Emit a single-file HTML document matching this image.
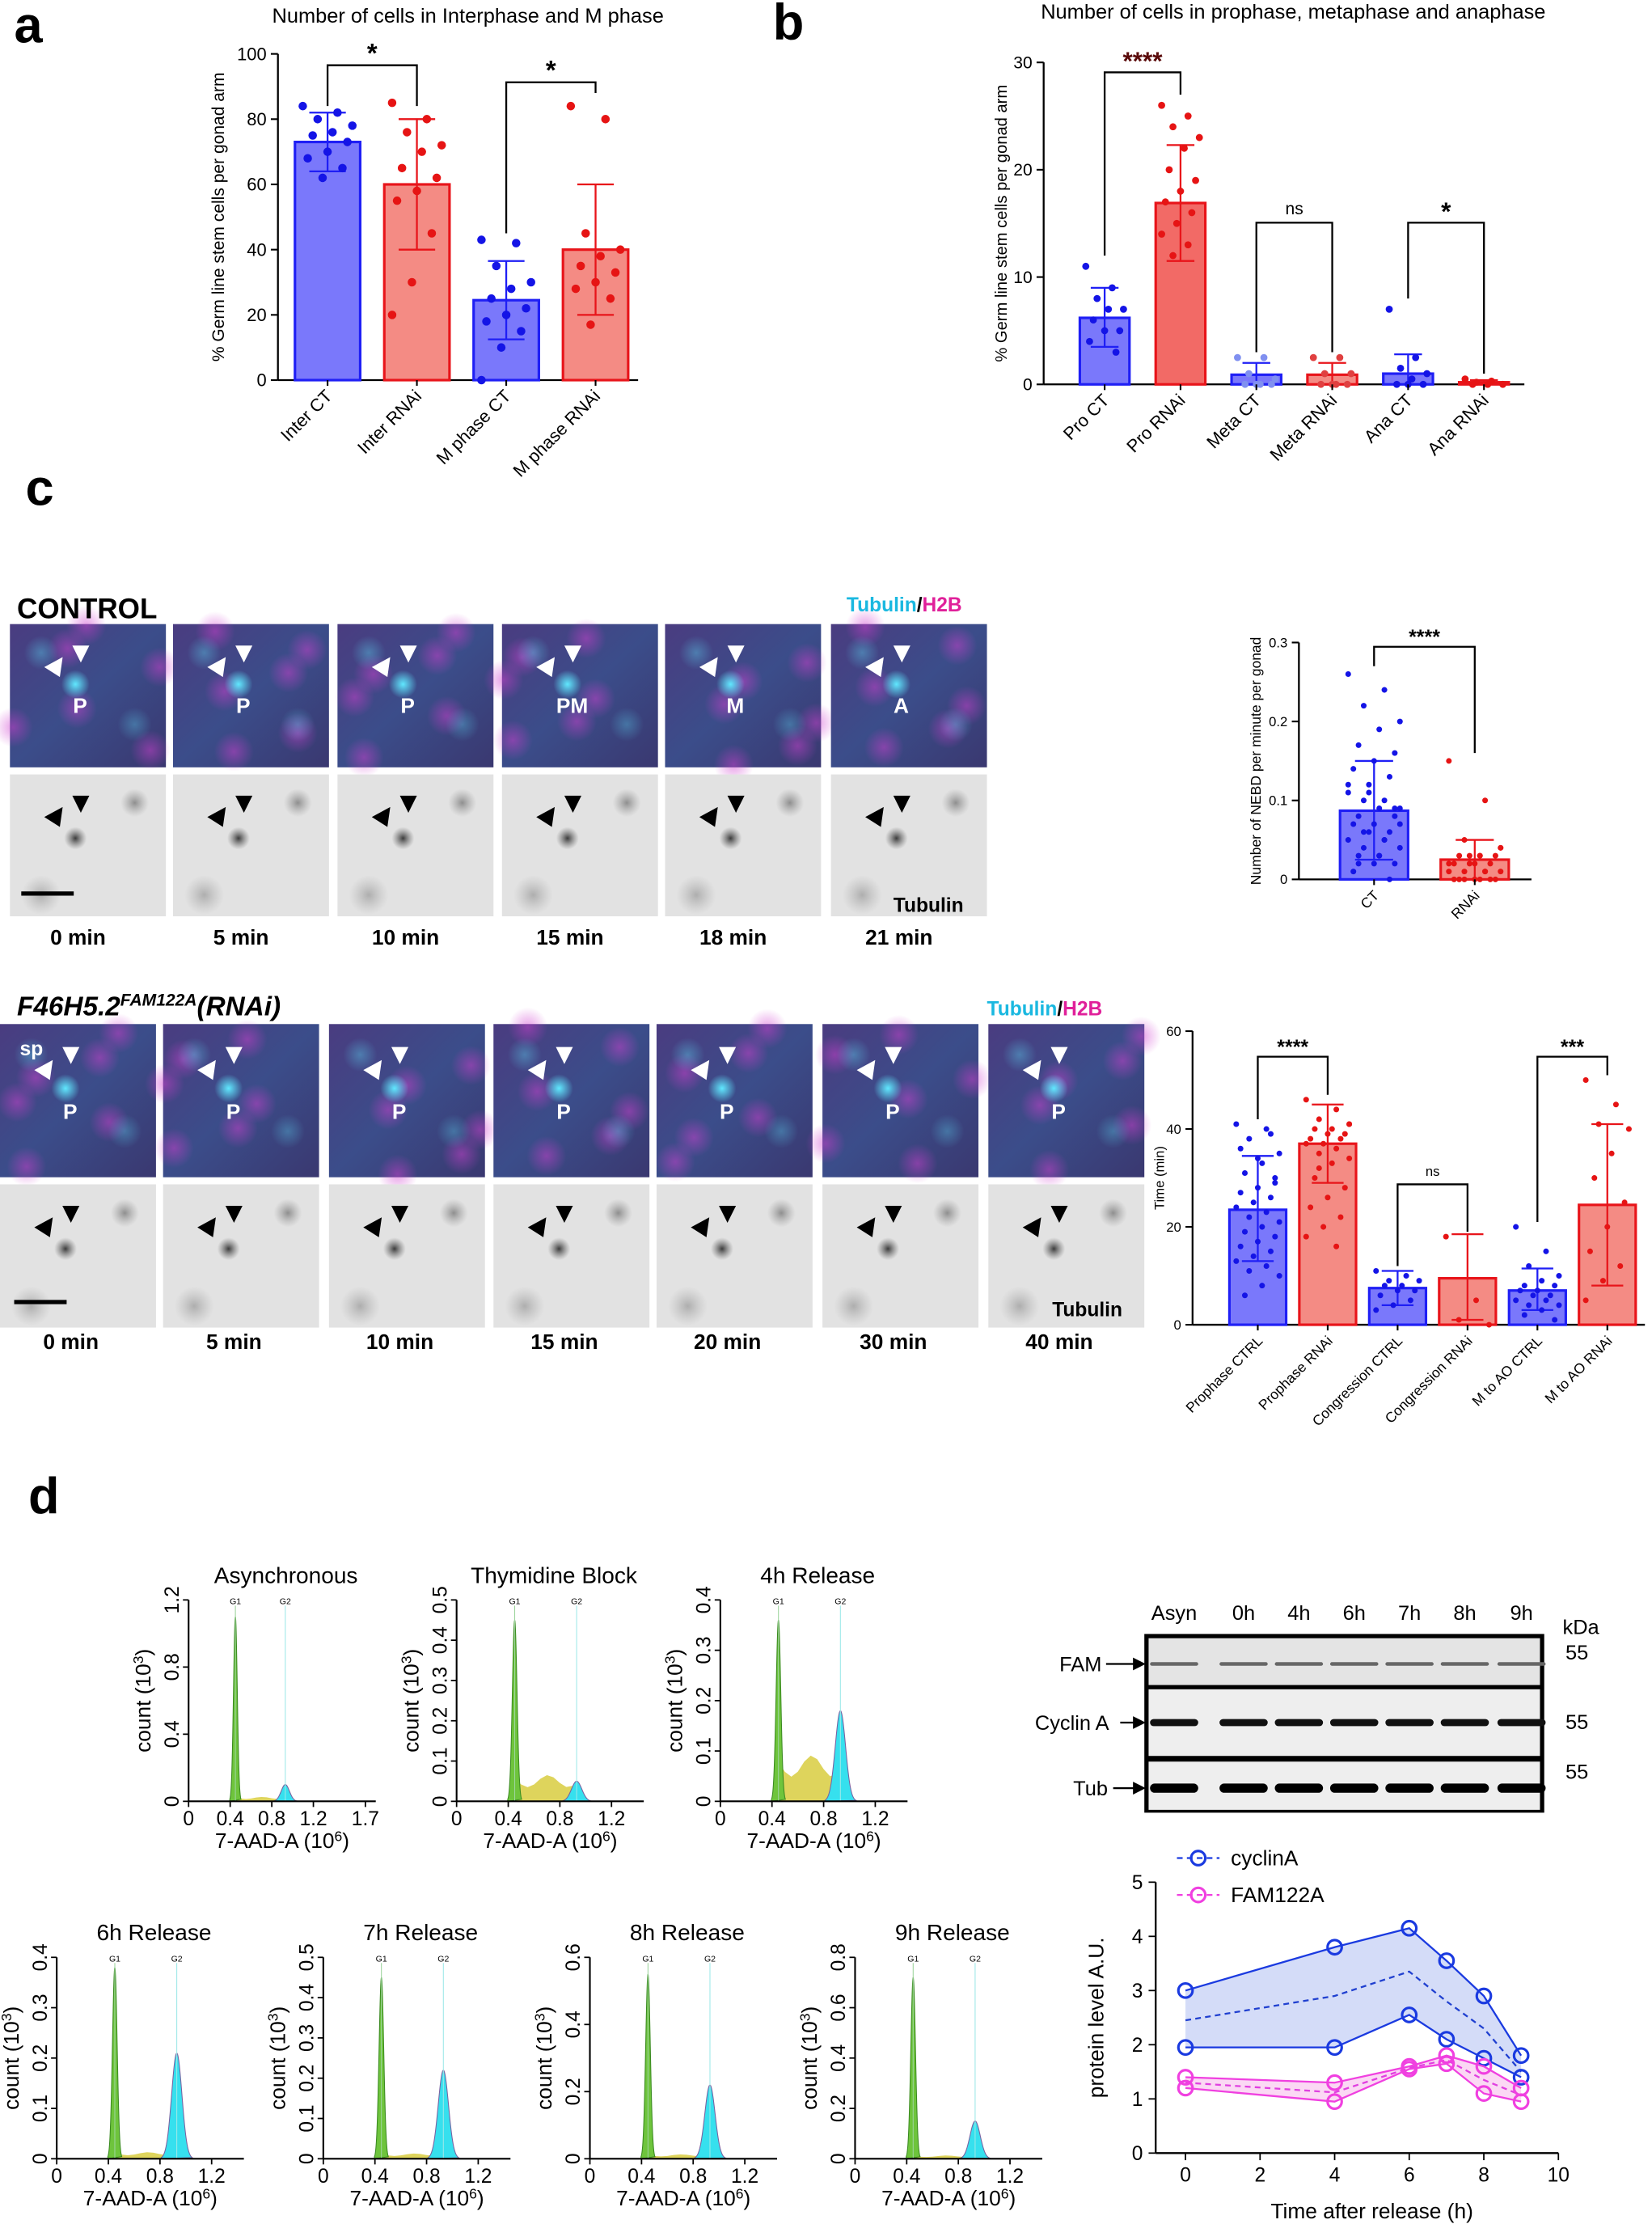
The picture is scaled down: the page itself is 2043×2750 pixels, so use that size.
<!DOCTYPE html>
<html><head><meta charset="utf-8">
<style>
html,body{margin:0;padding:0;background:#fff;}
svg{display:block;font-family:"Liberation Sans",sans-serif;}
</style></head>
<body>
<svg id="fig" width="2043" height="2750" viewBox="0 0 1165 1568" preserveAspectRatio="none" xmlns="http://www.w3.org/2000/svg">
<defs>
<radialGradient id="cyanblob"><stop offset="0" stop-color="#60e8ff"/><stop offset="1" stop-color="#60e8ff" stop-opacity="0"/></radialGradient>
<radialGradient id="magblob"><stop offset="0" stop-color="#d040d0"/><stop offset="1" stop-color="#d040d0" stop-opacity="0"/></radialGradient>
<radialGradient id="darkblob"><stop offset="0" stop-color="#111"/><stop offset="1" stop-color="#555" stop-opacity="0"/></radialGradient>
<linearGradient id="cbg" x1="0" y1="0" x2="1" y2="1"><stop offset="0" stop-color="#4a3c80"/><stop offset="0.5" stop-color="#3b4d8a"/><stop offset="1" stop-color="#3a3870"/></linearGradient>
</defs>
</svg>
<script>
// ---------- DATA ----------
// panel a
const aCats=["Inter CT","Inter RNAi","M phase CT","M phase RNAi"];
const aMeans=[73,60,24.5,40];
const aErrLo=[64,40,12.5,20];
const aErrHi=[82,80,36.5,60];
const aDots=[[84,82,80,78,76,75,73,70,68,65,62],[85,80,76,72,70,65,62,58,55,45,30,20],[43,42,35,30,28,25,22,20,18,15,10,0],[84,80,45,40,38,35,33,30,28,25,17]];
const aTicks=[0,20,40,60,80,100];
// panel b
const bCats=["Pro CT","Pro RNAi","Meta CT","Meta RNAi","Ana CT","Ana RNAi"];
const bMeans=[6.2,16.9,0.9,0.9,1.0,0.2];
const bErrLo=[3.5,11.5,0,0,0,0];
const bErrHi=[9,22.3,2,2,2.8,0.4];
const bDots=[[11,9,8,7,7,6,5,5,4,3],[26,25,24,23,22,20,19,18,17,16,15,14,13,12],[2.5,2.5,1,0.5,0,0,0,0],[2.5,2.5,1,1,0,0,0,0],[7,2.5,1.5,1,0.5,0,0,0],[0.5,0.3,0.2,0,0,0]];
const bTicks=[0,10,20,30];
// NEBD
const nCats=["CT","RNAi"];
const nMeans=[0.087,0.025];
const nErrLo=[0.025,0];
const nErrHi=[0.15,0.05];
const nDots=[[0.26,0.24,0.22,0.2,0.19,0.17,0.16,0.15,0.14,0.13,0.12,0.11,0.1,0.1,0.09,0.09,0.08,0.08,0.07,0.07,0.06,0.06,0.05,0.05,0.04,0.04,0.03,0.03,0.02,0.02,0.01,0,0.11,0.12,0.05,0.06,0.07,0.03,0.02,0.09],[0.15,0.1,0.05,0.04,0.03,0.03,0.03,0.02,0.02,0.02,0.02,0.01,0.01,0.01,0.01,0,0,0,0,0,0,0.03,0.02,0.01,0,0.04,0.03]];
const nTicks=[0,0.1,0.2,0.3];
// time chart
const tCats=["Prophase CTRL","Prophase RNAi","Congression CTRL","Congression RNAi","M to AO CTRL","M to AO RNAi"];
const tMeans=[23.5,37,7.5,9.5,7,24.5];
const tErrLo=[13,29,4,1,3,8];
const tErrHi=[34.5,45,11,18.5,11.5,41];
const tDots=[[41,40,38,35,33,31,30,28,27,26,25,24,23,22,21,20,19,18,17,16,15,14,13,12,11,10,8,6,29,34,36,39],[46,44,42,41,40,40,39,39,38,38,37,37,36,35,34,33,30,28,26,24,22,20,18,16,32,41],[11,10,9,9,8,8,7,7,6,5,4,3],[18,5,1,0],[20,15,12,10,9,8,8,7,7,6,6,5,5,4,4,3,2,1],[50,45,41,40,35,30,25,20,15,12,9,5]];
const tTicks=[0,20,40,60];
// line chart
const lX=[0,4,6,7,8,9];
const cycUp=[3.0,3.8,4.15,3.55,2.9,1.8];
const cycLo=[1.95,1.95,2.55,2.1,1.75,1.4];
const cycMean=[2.45,2.9,3.35,2.8,2.3,1.5];
const famUp=[1.4,1.3,1.6,1.8,1.6,1.2];
const famLo=[1.2,0.95,1.55,1.65,1.1,0.95];
const famMean=[1.3,1.12,1.57,1.72,1.35,1.07];
const lXTicks=[0,2,4,6,8,10];
const lYTicks=[0,1,2,3,4,5];
// histograms
const hTitles=["Asynchronous","Thymidine Block","4h Release","6h Release","7h Release","8h Release","9h Release"];
const hYMax=[1.2,0.5,0.4,0.4,0.5,0.6,0.8];
const hYStep=[0.4,0.1,0.1,0.1,0.1,0.2,0.2];
const hG1=[1.1,0.45,0.36,0.38,0.45,0.55,0.72];
const hG2=[0.1,0.05,0.18,0.21,0.22,0.22,0.15];
const hS=[0.02,0.05,0.07,0.01,0.01,0.01,0.01];
const hXTicks=[[0.4,0.8,1.2,1.7],[0.4,0.8,1.2],[0.4,0.8,1.2],[0.4,0.8,1.2],[0.4,0.8,1.2],[0.4,0.8,1.2],[0.4,0.8,1.2]];

// ---------- HELPERS ----------
const NS="http://www.w3.org/2000/svg";
const svg=document.getElementById('fig');
function mk(tag,attrs,parent){const e=document.createElementNS(NS,tag);for(const k in attrs)e.setAttribute(k,attrs[k]);(parent||svg).appendChild(e);return e;}
function txt(x,y,s,size,opts,parent){const o=Object.assign({x:x,y:y,'font-size':size},opts||{});const e=mk('text',o,parent);e.textContent=s;return e;}

// ---------- PANEL LABELS ----------
[["a",10,30],["b",545,28],["c",18,356],["d",20,1067]].forEach(p=>{
 const t=txt(p[1],p[2],p[0],36,{'font-weight':'bold'});
 
 
});

// ---------- BAR CHART ----------
function barChart(o){
 const g=mk('g',{});
 
 
 const ys=v=>o.yBot-(v-o.yMin)/(o.yMax-o.yMin)*(o.yBot-o.yTop);
 const ax=mk('line',{x1:o.ax,y1:o.yTop,x2:o.ax,y2:o.yBot,stroke:'#000','stroke-width':1.3},g);
 
 
 const xa=mk('line',{x1:o.ax,y1:o.yBot,x2:o.xEnd,y2:o.yBot,stroke:'#000','stroke-width':1.3},g);
 
 
 o.ticks.forEach(t=>{
  mk('line',{x1:o.ax-5,y1:ys(t),x2:o.ax,y2:ys(t),stroke:'#000','stroke-width':1.2},g);
  const l=txt(o.ax-8,ys(t)+o.fs*0.35,String(t),o.fs,{'text-anchor':'end'},g);
  
  
 });
 const yt=txt(0,0,o.ytitle,o.yfs,{'text-anchor':'middle',transform:`translate(${o.ytx},${(o.yTop+o.yBot)/2}) rotate(-90)`},g);
 
 
 o.cats.forEach((c,i)=>{
  const cx=o.cx0+i*o.step;
  const fill=o.fills[i],stroke=o.strokes[i];
  const b=mk('rect',{x:cx-o.bw/2,y:ys(o.means[i]),width:o.bw,height:o.yBot-ys(o.means[i]),fill:fill,stroke:stroke,'stroke-width':1.8},g);
  
  
  const ec=stroke;
  mk('line',{x1:cx,y1:ys(o.lo[i]),x2:cx,y2:ys(o.hi[i]),stroke:ec,'stroke-width':1.3},g);
  mk('line',{x1:cx-o.bw*0.28,y1:ys(o.hi[i]),x2:cx+o.bw*0.28,y2:ys(o.hi[i]),stroke:ec,'stroke-width':1.3},g);
  mk('line',{x1:cx-o.bw*0.28,y1:ys(o.lo[i]),x2:cx+o.bw*0.28,y2:ys(o.lo[i]),stroke:ec,'stroke-width':1.3},g);
  o.dots[i].forEach((v,j)=>{
   const jit=((j*7)%11-5)/5*o.bw*0.38;
   const d=mk('circle',{cx:cx+jit,cy:ys(v),r:o.dr,fill:o.dotc[i]},g);
   
   
  });
  mk('line',{x1:cx,y1:o.yBot,x2:cx,y2:o.yBot+4,stroke:'#000','stroke-width':1.2},g);
  const l=txt(0,0,c,o.xfs,{'text-anchor':'end',transform:`translate(${cx+4},${o.yBot+12}) rotate(-45)`},g);
  
  
 });
 (o.sig||[]).forEach(s=>{
  const x1=o.cx0+s[0]*o.step,x2=o.cx0+s[1]*o.step;
  const br=mk('path',{d:`M${x1},${ys(s[3])} V${s[2]} H${x2} V${ys(s[4])}`,fill:'none',stroke:'#000','stroke-width':1.3},g);
  
  
  const st=txt((x1+x2)/2,s[2]-(s[5]==='ns'?6:2),s[5],s[5]==='ns'?o.fs:o.fs*1.5,{'text-anchor':'middle','font-weight':s[5]==='ns'?'normal':'bold',fill:s[6]||'#000'},g);
  
  
 });
}
const CTF='#7a78fb',CTS='#1f1ff5',RF='#f48b84',RS='#e8141a',CD='#1414e6',RD='#e61414';
barChart({name:'chart-a-interphase-mphase',ax:196,xEnd:450,yTop:38,yBot:268,yMin:0,yMax:100,ticks:aTicks,fs:12.5,xfs:12.5,ytitle:'% Germ line stem cells per gonad arm',yfs:12,ytx:158,cats:aCats,cx0:231,step:63,bw:46,means:aMeans,lo:aErrLo,hi:aErrHi,dots:aDots,dr:3,fills:[CTF,RF,CTF,RF],strokes:[CTS,RS,CTS,RS],dotc:[CD,RD,CD,RD],sig:[[0,1,46,84,84,'*'],[2,3,58,45,88,'*']]});
barChart({name:'chart-b-prophase-metaphase-anaphase',ax:736,xEnd:1075,yTop:44,yBot:271,yMin:0,yMax:30,ticks:bTicks,fs:12,xfs:12.5,ytitle:'% Germ line stem cells per gonad arm',yfs:11.5,ytx:710,cats:bCats,cx0:779,step:53.5,bw:35,means:bMeans,lo:bErrLo,hi:bErrHi,dots:bDots,dr:2.5,fills:[CTF,'#f26a66',CTF,RF,CTF,RF],strokes:[CTS,RS,CTS,RS,CTS,RS],dotc:[CD,RD,'#8090f0','#e04040',CD,RD],sig:[[0,1,51,12,27,'****','#5a0a0a'],[2,3,157,3,3,'ns'],[4,5,157,8,1,'*']]});
barChart({name:'chart-nebd',ax:916,xEnd:1080,yTop:453,yBot:620,yMin:0,yMax:0.3,ticks:nTicks,fs:9.5,xfs:10,ytitle:'Number of NEBD per minute per gonad',yfs:10,ytx:889,cats:nCats,cx0:969,step:71,bw:48,means:nMeans,lo:nErrLo,hi:nErrHi,dots:nDots,dr:2,fills:[CTF,RF],strokes:[CTS,RS],dotc:[CD,RD],sig:[[0,1,456,0.27,0.16,'****']]});
barChart({name:'chart-time-min',ax:841,xEnd:1160,yTop:727,yBot:934,yMin:0,yMax:60,ticks:tTicks,fs:9.5,xfs:10,ytitle:'Time (min)',yfs:9.5,ytx:821,cats:tCats,cx0:887,step:49.3,bw:40,means:tMeans,lo:tErrLo,hi:tErrHi,dots:tDots,dr:2,fills:[CTF,RF,CTF,RF,CTF,RF],strokes:[CTS,RS,CTS,RS,CTS,RS],dotc:[CD,RD,CD,RD,CD,RD],sig:[[0,1,745,42,47,'****'],[2,3,835,12,19,'ns'],[4,5,745,21,51,'***']]});
let tt=txt(330,16,'Number of cells in Interphase and M phase',14.5,{'text-anchor':'middle'});


tt=txt(912,13,'Number of cells in prophase, metaphase and anaphase',14.5,{'text-anchor':'middle'});



// ---------- MICROSCOPY ----------
function micro(x,y,w,h,kind,label,seed,name){
 const g=mk('g',{});
 
 
 if(kind==='c'){
  mk('rect',{x:x,y:y,width:w,height:h,fill:'url(#cbg)'},g);
  for(let k=0;k<6;k++){const px=x+((seed*37+k*53)%100)/100*w,py=y+((seed*17+k*71)%100)/100*h;mk('circle',{cx:px,cy:py,r:14,fill:'url(#magblob)',opacity:0.5},g);}
  mk('circle',{cx:x+w*0.42,cy:y+h*0.42,r:10,fill:'url(#cyanblob)'},g);
  mk('circle',{cx:x+w*0.2,cy:y+h*0.2,r:12,fill:'url(#cyanblob)',opacity:0.35},g);
  mk('circle',{cx:x+w*0.8,cy:y+h*0.7,r:12,fill:'url(#cyanblob)',opacity:0.3},g);
  mk('path',{d:`M${x+w*0.22},${y+h*0.3} l13,-7 l-2,14z`,fill:'#fff'},g);
  mk('path',{d:`M${x+w*0.4},${y+h*0.15} l12,0 l-6,12z`,fill:'#fff'},g);
  if(label){const t=txt(x+w*0.45,y+h*0.62,label,15,{fill:'#fff','font-weight':'bold','text-anchor':'middle'},g);}
 }else{
  mk('rect',{x:x,y:y,width:w,height:h,fill:'#e2e2e2'},g);
  mk('circle',{cx:x+w*0.8,cy:y+h*0.2,r:10,fill:'url(#darkblob)',opacity:0.4},g);
  mk('circle',{cx:x+w*0.2,cy:y+h*0.85,r:14,fill:'url(#darkblob)',opacity:0.25},g);
  mk('circle',{cx:x+w*0.42,cy:y+h*0.45,r:8,fill:'url(#darkblob)',opacity:0.8},g);
  mk('path',{d:`M${x+w*0.22},${y+h*0.3} l13,-7 l-2,14z`,fill:'#000'},g);
  mk('path',{d:`M${x+w*0.4},${y+h*0.15} l12,0 l-6,12z`,fill:'#000'},g);
 }
}
const ctrlLabels=["P","P","P","PM","M","A"],ctrlTimes=["0 min","5 min","10 min","15 min","18 min","21 min"];
const ctrlX=[7,122,238,354,469,586];
ctrlX.forEach((x,i)=>{
 micro(x,440,110,101,'c',ctrlLabels[i],i+1,'control-color-frame');
 micro(x,546,110,100,'g',null,i+1,'control-tubulin-frame');
 const t=txt(x+48,666,ctrlTimes[i],15,{'font-weight':'bold','text-anchor':'middle'});
 
 
});
const rnaiX=[0,115,232,348,463,580,697],rnaiTimes=["0 min","5 min","10 min","15 min","20 min","30 min","40 min"];
rnaiX.forEach((x,i)=>{
 micro(x,722,110,108,'c','P',i+3,'rnai-color-frame');
 micro(x,835,110,101,'g',null,i+3,'rnai-tubulin-frame');
 const t=txt(x+50,951,rnaiTimes[i],15,{'font-weight':'bold','text-anchor':'middle'});
 
 
});
let e;
e=txt(12,436,'CONTROL',20,{'font-weight':'bold'});
e=txt(12,716,'',19,{'font-weight':'bold','font-style':'italic'});e.innerHTML='F46H5.2<tspan font-size="12" dy="-7">FAM122A</tspan><tspan dy="7">(RNAi)</tspan>';
[[597,431],[696,716]].forEach(p=>{e=txt(p[0],p[1],'',14,{'font-weight':'bold'});e.innerHTML='<tspan fill="#1ab8e0">Tubulin</tspan>/<tspan fill="#e0209a">H2B</tspan>';});
[[630,643],[742,928]].forEach(p=>{e=txt(p[0],p[1],'Tubulin',14,{'font-weight':'bold'});});
e=txt(14,744,'sp',14,{'font-weight':'bold',fill:'#fff'});
mk('line',{x1:15,y1:630,x2:52,y2:630,stroke:'#000','stroke-width':3});
mk('line',{x1:10,y1:918,x2:47,y2:918,stroke:'#000','stroke-width':3});

// ---------- HISTOGRAMS ----------
const hPos=[[133,1128],[322,1128],[508,1128],[40,1380],[228,1380],[416,1380],[603,1380]];
hTitles.forEach((title,i)=>{
 const g=mk('g',{});
 
 
 const x0=hPos[i][0],y0=hPos[i][1],w=132,h=142;
 const xmax=i===0?1.8:1.45;
 const xs=v=>x0+v/xmax*w, ys=v=>y0+h-v/hYMax[i]*h;
 const tl=txt(x0+w*0.52,y0-12,title,16,{'text-anchor':'middle'},g);
 
 let p=`M${xs(0.45)},${ys(0)}`;for(let v=0.45;v<=0.95;v+=0.05)p+=` L${xs(v)},${ys(hS[i]*(1+0.3*Math.sin(v*20)))}`;p+=` L${xs(0.95)},${ys(0)}Z`;
 mk('path',{d:p,fill:'#d8cc40',opacity:0.85},g);
 const gp=(c,hh,s,col,name)=>{let d=`M${xs(c-3*s)},${ys(0)}`;for(let k=-30;k<=30;k++){const v=c+k*s/10;d+=` L${xs(v)},${ys(hh*Math.exp(-(k/10)*(k/10)/2))}`;}d+='Z';const pk=mk('path',{d:d,fill:col,stroke:col==='#6ec43c'?'#3a8a20':'#7a60a0','stroke-width':0.6},g);};
 gp(0.45,hG1[i],0.018,'#6ec43c','g1-peak');
 gp(0.93,hG2[i],0.04,'#36e0ee','g2-peak');
 mk('line',{x1:xs(0.45),y1:y0+4,x2:xs(0.45),y2:y0+h,stroke:'#9cd49c','stroke-width':0.6},g);
 mk('line',{x1:xs(0.93),y1:y0+4,x2:xs(0.93),y2:y0+h,stroke:'#9ce8e8','stroke-width':0.6},g);
 txt(xs(0.45),y0+3,'G1',6,{'text-anchor':'middle'},g);
 txt(xs(0.93),y0+3,'G2',6,{'text-anchor':'middle'},g);
 mk('line',{x1:x0,y1:y0,x2:x0,y2:y0+h,stroke:'#000','stroke-width':1.2},g);
 mk('line',{x1:x0,y1:y0+h,x2:x0+w,y2:y0+h,stroke:'#000','stroke-width':1.2},g);
 const step=hYStep[i];
 for(let v=0;v<=hYMax[i]+1e-6;v+=step){const vv=Math.round(v*10)/10;mk('line',{x1:x0-4,y1:ys(vv),x2:x0,y2:ys(vv),stroke:'#000'},g);const l=txt(0,0,String(vv),14,{'text-anchor':'middle',transform:`translate(${x0-7},${ys(vv)}) rotate(-90)`},g);}
 [0].concat(hXTicks[i]).forEach(v=>{mk('line',{x1:xs(v),y1:y0+h,x2:xs(v),y2:y0+h+4,stroke:'#000'},g);const l=txt(xs(v),y0+h+17,String(v),14,{'text-anchor':'middle'},g);});
 const yl=txt(0,0,'',15,{'text-anchor':'middle',transform:`translate(${x0-27},${y0+h/2}) rotate(-90)`},g);yl.innerHTML='count (10<tspan font-size="10" dy="-5">3</tspan><tspan dy="5">)</tspan>';
 const xl=txt(x0+w*0.5,y0+h+33,'',15,{'text-anchor':'middle'},g);xl.innerHTML='7-AAD-A (10<tspan font-size="10" dy="-5">6</tspan><tspan dy="5">)</tspan>';
});

// ---------- WESTERN BLOT ----------
(function(){
 const g=mk('g',{});
 
 
 const lanes=["Asyn","0h","4h","6h","7h","8h","9h"];
 const lx=[828,877,916,955,994,1033,1073];
 lanes.forEach((l,i)=>{const t=txt(lx[i],1142,l,14.5,{'text-anchor':'middle'},g);});
 // [y, height, label, band thickness, band colour, band rel y, kda y]
 const rows=[[1155,33,'FAM',2.5,'#666',0.55,1170],[1191,47,'Cyclin A',5,'#111',0.5,1219],[1242,34,'Tub',6.5,'#000',0.55,1254]];
 mk('rect',{x:807,y:1152,width:282,height:126,fill:'#000'},g);
 rows.forEach((r,ri)=>{
  const rr=mk('rect',{x:810,y:r[0],width:276,height:r[1],fill:ri===0?'#e4e4e4':'#eeeeee'},g);
  
  
  lanes.forEach((l,i)=>{mk('rect',{x:lx[i]-17,y:r[0]+r[1]*r[5]-r[3]/2,width:34,height:r[3],rx:r[3]/2,fill:r[4]},g);});
  const cy=r[0]+r[1]*r[5];
  const n=txt(ri===1?756:ri===0?762:769,cy+5,r[2],14.5,{'text-anchor':'middle'},g);
  const ax=ri===1?790:ri===0?780:785;
  mk('path',{d:`M${ax},${cy} H806`,stroke:'#000','stroke-width':1.3},g);
  mk('path',{d:`M808,${cy} l-9,-4.5 v9z`,fill:'#000'},g);
  const k=txt(1104,r[6],'55',14.5,{},g);
 });
 txt(1102,1152,'kDa',14.5,{},g);
})();

// ---------- LINE CHART ----------
(function(){
 const g=mk('g',{});
 
 
 const X0=815,Y0=1518,xs=v=>836+v*26.3,ys=v=>Y0-v*38.2;
 mk('line',{x1:X0,y1:ys(5),x2:X0,y2:Y0,stroke:'#000','stroke-width':1.3},g);
 mk('line',{x1:X0,y1:Y0,x2:xs(10),y2:Y0,stroke:'#000','stroke-width':1.3},g);
 lYTicks.forEach(v=>{mk('line',{x1:X0-5,y1:ys(v),x2:X0,y2:ys(v),stroke:'#000'},g);const l=txt(X0-9,ys(v)+5,String(v),14,{'text-anchor':'end'},g);});
 lXTicks.forEach(v=>{mk('line',{x1:xs(v),y1:Y0,x2:xs(v),y2:Y0+5,stroke:'#000'},g);const l=txt(xs(v),Y0+20,String(v),14,{'text-anchor':'middle'},g);});
 let t=txt(0,0,'protein level A.U.',15,{'text-anchor':'middle',transform:`translate(${X0-37},${ys(2.5)}) rotate(-90)`},g);
 t=txt(xs(5),Y0+46,'Time after release (h)',15,{'text-anchor':'middle'},g);
 const pts=a=>lX.map((x,i)=>xs(x)+','+ys(a[i]));
 const band=(up,lo,fill,name)=>{const b=mk('polygon',{points:pts(up).concat(pts(lo).reverse()).join(' '),fill:fill},g);};
 band(cycUp,cycLo,'#d4dcf8','cyclina-band');
 band(famUp,famLo,'#fbd8f4','fam122a-band');
 const line=(a,col,dash,name)=>{const l=mk('polyline',{points:pts(a).join(' '),fill:'none',stroke:col,'stroke-width':1.3,'stroke-dasharray':dash||'none'},g);};
 line(cycMean,'#2040d0','4,3','cyclina-mean');line(famMean,'#e040e0','4,3','fam122a-mean');
 [[cycUp,'#1a3ae0','cyclina'],[cycLo,'#1a3ae0','cyclina'],[famUp,'#f040e0','fam122a'],[famLo,'#f040e0','fam122a']].forEach(s=>{
  line(s[0],s[1],null,s[2]+'-line');
  s[0].forEach((v,i)=>{const c=mk('circle',{cx:xs(lX[i]),cy:ys(v),r:5,fill:'none',stroke:s[1],'stroke-width':1.8},g);});
 });
 [['cyclinA','#1a3ae0',1310],['FAM122A','#f040e0',1336]].forEach(L=>{
  const lg=mk('g',{},g);
  mk('line',{x1:830,y1:L[2],x2:860,y2:L[2],stroke:L[1],'stroke-width':1.3,'stroke-dasharray':'4,3'},lg);
  mk('circle',{cx:845,cy:L[2],r:5,fill:'none',stroke:L[1],'stroke-width':1.8},lg);
  txt(868,L[2]+5,L[0],15,{},lg);
 });
})();
</script>
</body></html>
